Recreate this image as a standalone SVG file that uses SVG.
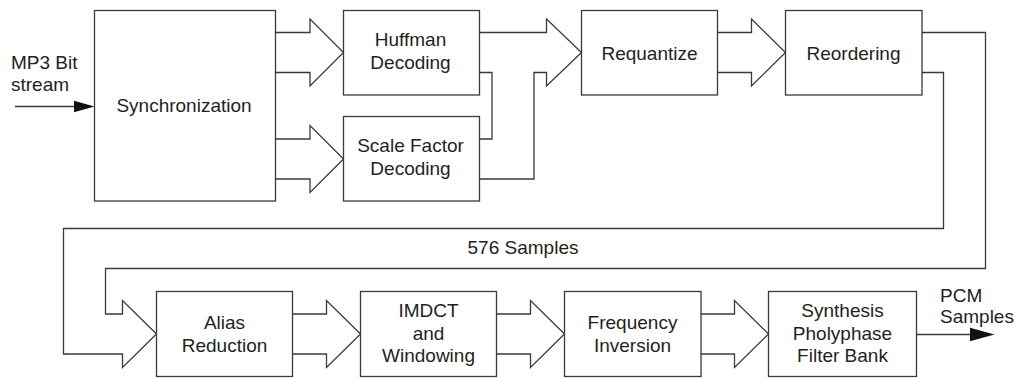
<svg xmlns="http://www.w3.org/2000/svg" width="1017" height="378" viewBox="0 0 1017 378">
<style>
.box{fill:#fff;stroke:#3a3a3a;stroke-width:1.3}
.ln{fill:none;stroke:#3a3a3a;stroke-width:1.3;stroke-linejoin:miter}
.t{font-family:"Liberation Sans",Arial,sans-serif;font-size:19px;fill:#231f20;text-anchor:middle}
.tl{font-family:"Liberation Sans",Arial,sans-serif;font-size:19px;fill:#231f20}
.ah{fill:#111;stroke:none}
</style>
<rect width="1017" height="378" fill="#fff"/>
<g id="connectors">
  <line class="ln" x1="15" y1="106.5" x2="76" y2="106.5"/>
  <polygon class="ah" points="74,100.8 94.5,106.5 74,112.2"/>
  <path class="ln" d="M275.5,32.5 H310 V19 L343.5,52.5 L310,86 V72.5 H275.5"/>
  <path class="ln" d="M275.5,139 H310 V125.5 L343.5,159 L310,192.5 V179 H275.5"/>
  <path class="ln" d="M479.5,32.5 H546.5 V19 L581.5,52.5 L546.5,86 V72.5 H534 V179 H479.5"/>
  <path class="ln" d="M479.5,72.5 H492 V139 H479.5"/>
  <path class="ln" d="M717.5,32.5 H751.5 V19 L785.5,52.5 L751.5,86 V72.5 H717.5"/>
  <path class="ln" d="M922,32.5 H985.5 V268.5 H105.5 V314 H122.5 V300.5 L156.5,334 L122.5,367.5 V354 H63.5 V228.5 H943.5 V72.5 H922"/>
  <path class="ln" d="M292.5,314 H326.5 V300.5 L360.5,334 L326.5,367.5 V354 H292.5"/>
  <path class="ln" d="M496.5,314 H530.5 V300.5 L564.5,334 L530.5,367.5 V354 H496.5"/>
  <path class="ln" d="M701,314 H734.5 V300.5 L768.5,334 L734.5,367.5 V354 H701"/>
  <line class="ln" x1="916.5" y1="334.5" x2="972" y2="334.5"/>
  <polygon class="ah" points="970,327.8 994.5,334.5 970,341.2"/>
</g>
<g id="label-input">
  <text class="tl" x="11" y="69">MP3 Bit</text>
  <text class="tl" x="11" y="91">stream</text>
</g>
<g id="node-sync">
  <rect class="box" x="94.5" y="10.5" width="181" height="190.5"/>
  <text class="t" x="184" y="112">Synchronization</text>
</g>
<g id="node-huffman">
  <rect class="box" x="343.5" y="10.5" width="136" height="84.5"/>
  <text class="t" x="410.5" y="46">Huffman</text>
  <text class="t" x="410.5" y="68.5">Decoding</text>
</g>
<g id="node-scale">
  <rect class="box" x="343.5" y="116.5" width="136" height="84.5"/>
  <text class="t" x="410.5" y="152">Scale Factor</text>
  <text class="t" x="410.5" y="174.5">Decoding</text>
</g>
<g id="node-requantize">
  <rect class="box" x="581.5" y="10.5" width="136" height="84.5"/>
  <text class="t" x="649.5" y="59.5">Requantize</text>
</g>
<g id="node-reordering">
  <rect class="box" x="785.5" y="10.5" width="136.5" height="84.5"/>
  <text class="t" x="853.5" y="59.5">Reordering</text>
</g>
<g id="label-576">
  <text class="t" x="523" y="254">576 Samples</text>
</g>
<g id="node-alias">
  <rect class="box" x="156.5" y="291.5" width="136" height="85"/>
  <text class="t" x="224.5" y="328.5">Alias</text>
  <text class="t" x="224.5" y="351.5">Reduction</text>
</g>
<g id="node-imdct">
  <rect class="box" x="360.5" y="291.5" width="136" height="85"/>
  <text class="t" x="428.5" y="317">IMDCT</text>
  <text class="t" x="428.5" y="339.5">and</text>
  <text class="t" x="428.5" y="362">Windowing</text>
</g>
<g id="node-frequency">
  <rect class="box" x="564.5" y="291.5" width="136.5" height="85"/>
  <text class="t" x="632.5" y="328.5">Frequency</text>
  <text class="t" x="632.5" y="351.5">Inversion</text>
</g>
<g id="node-synthesis">
  <rect class="box" x="768.5" y="291.5" width="148" height="85"/>
  <text class="t" x="842.5" y="317">Synthesis</text>
  <text class="t" x="842.5" y="339.5">Pholyphase</text>
  <text class="t" x="842.5" y="362">Filter Bank</text>
</g>
<g id="label-output">
  <text class="tl" x="940" y="302">PCM</text>
  <text class="tl" x="940" y="323">Samples</text>
</g>
</svg>
